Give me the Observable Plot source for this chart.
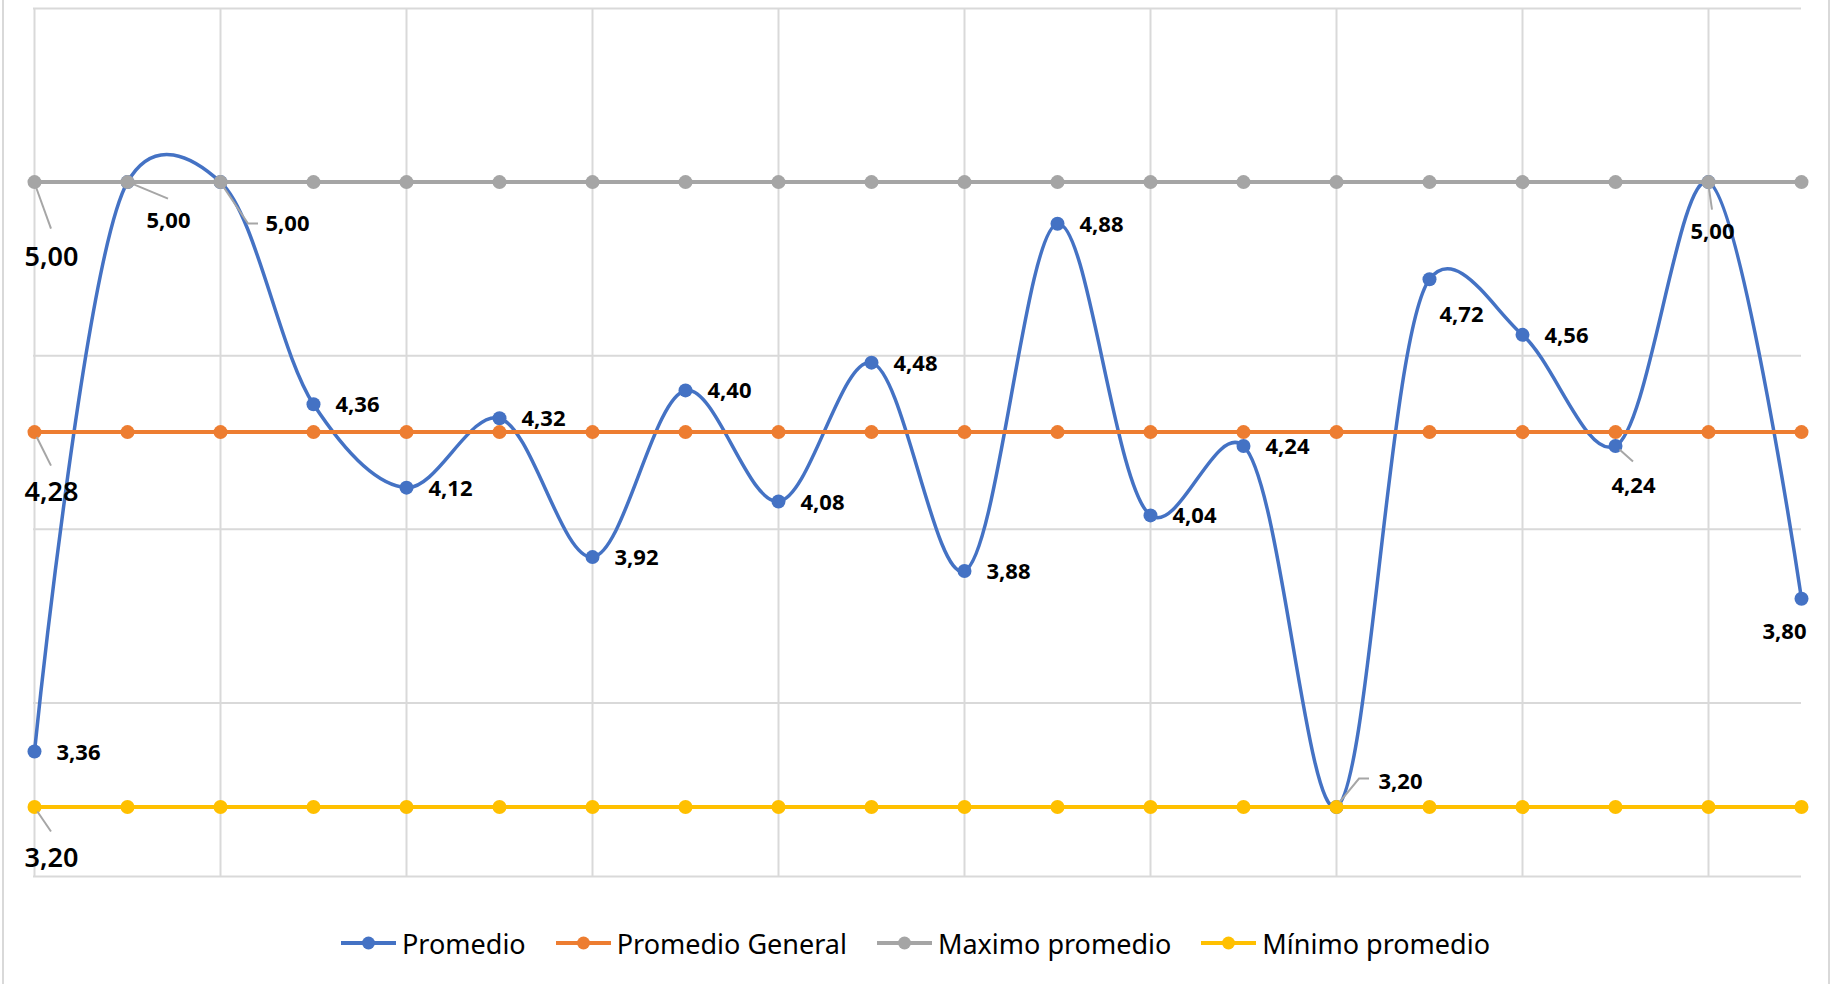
<!DOCTYPE html>
<html><head><meta charset="utf-8">
<script src="https://cdn.jsdelivr.net/npm/d3@7"></script>
<script src="https://cdn.jsdelivr.net/npm/@observablehq/plot@0.6"></script>
<style>
body{margin:0;background:#fff;width:1831px;height:984px;position:relative;overflow:hidden;font-family:"Noto Sans",sans-serif}
#frame{position:absolute;left:2px;top:-4px;width:1828px;height:994px;border:2px solid #d9d9d9;box-sizing:border-box}
#chart{position:absolute;left:0;top:0}
#legend{position:absolute;left:0;top:920px;width:1831px;height:46px;display:flex;justify-content:center;align-items:center;gap:30px;font-size:27px;color:#000}
.item{display:flex;align-items:center;gap:6px}
</style></head><body>
<div id="frame"></div><div id="chart"></div><div id="legend"></div>
<script>
// ---- data ----
const categories = [1,2,3,4,5,6,7,8,9,10,11,12,13,14,15,16,17,18,19,20];
const promedio = [3.36,5.00,5.00,4.36,4.12,4.32,3.92,4.40,4.08,4.48,3.88,4.88,4.04,4.24,3.20,4.72,4.56,4.24,5.00,3.80];
const promedioGeneral = [4.28,4.28,4.28,4.28,4.28,4.28,4.28,4.28,4.28,4.28,4.28,4.28,4.28,4.28,4.28,4.28,4.28,4.28,4.28,4.28];
const maximoPromedio = [5.00,5.00,5.00,5.00,5.00,5.00,5.00,5.00,5.00,5.00,5.00,5.00,5.00,5.00,5.00,5.00,5.00,5.00,5.00,5.00];
const minimoPromedio = [3.20,3.20,3.20,3.20,3.20,3.20,3.20,3.20,3.20,3.20,3.20,3.20,3.20,3.20,3.20,3.20,3.20,3.20,3.20,3.20];
const seriesNames = ["Promedio","Promedio General","Maximo promedio","Mínimo promedio"];
const yGrid = [3.0,3.5,4.0,4.5,5.0,5.5];
const xGrid = [1,3,5,7,9,11,13,15,17,19];
// label placement keys for the Promedio series
const labelPlacement = ["r","b1","b2","r","r","r","r","r","r","r","r","r","r","r","t14","b15","r","b17","b18","b19"];

// ---- styles / layout ----
const colors = ["#4472C4","#ED7D31","#A5A5A5","#FFC000"];
const placements = {
  r:   {dx:22, dy:1, anchor:"start"},
  b1:  {dx:41, dy:39, anchor:"middle", leader:[[0,0],[41,17]]},
  b2:  {dx:45, dy:42, anchor:"start", leader:[[0,0],[28,42],[38,42]]},
  t14: {dx:42, dy:-25, anchor:"start", leader:[[0,0],[23,-28],[33,-28]]},
  b15: {dx:32, dy:36, anchor:"middle"},
  b17: {dx:18, dy:40, anchor:"middle", leader:[[0,0],[18,16]]},
  b18: {dx:4, dy:50, anchor:"middle", leader:[[0,0],[4,28]]},
  b19: {dx:-17, dy:33, anchor:"middle"},
  big0: {dx:17, dy:60, anchor:"middle", leader:[[0,0],[17,34]]},   // 4,28
  big1: {dx:17, dy:75, anchor:"middle", leader:[[0,0],[17,47]]},   // 5,00
  big2: {dx:17, dy:51, anchor:"middle", leader:[[0,0],[17,25]]}    // 3,20
};
const fmt = v => d3.format(".2f")(v).replace(".", ",");
const FONT = "Noto Sans";

const rows = s => categories.map((c,i) => ({x:c, y:s[i]}));
const seriesData = [promedio, promedioGeneral, maximoPromedio, minimoPromedio].map(rows);

const marks = [
  Plot.ruleY(yGrid, {stroke:"#d9d9d9", strokeWidth:2}),
  Plot.ruleX(xGrid, {stroke:"#d9d9d9", strokeWidth:2})
];
seriesData.forEach((d, k) => {
  marks.push(Plot.line(d, {x:"x", y:"y", stroke:colors[k], strokeWidth: k===0 ? 3.5 : 4,
    curve: k===0 ? d3.curveCatmullRom.alpha(0.25) : "linear"}));
  marks.push(Plot.dot(d, {x:"x", y:"y", fill:colors[k], r:7, stroke:"none"}));
});
// Promedio labels
const leaders = [];
promedio.forEach((v,i) => {
  const p = placements[labelPlacement[i]];
  marks.push(Plot.text([{x:categories[i], y:v}], {x:"x", y:"y", text:d=>fmt(d.y), dx:p.dx, dy:p.dy,
    textAnchor:p.anchor, fontSize:22, fontWeight:"bold", fill:"#000", fontFamily:FONT}));
  if (p.leader) leaders.push({x:categories[i], y:v, pts:p.leader});
});
// first-point labels of constant series
[[promedioGeneral,"big0"],[maximoPromedio,"big1"],[minimoPromedio,"big2"]].forEach(([s,key]) => {
  const p = placements[key];
  marks.push(Plot.text([{x:categories[0], y:s[0]}], {x:"x", y:"y", text:d=>fmt(d.y), dx:p.dx, dy:p.dy,
    textAnchor:p.anchor, fontSize:27, fontWeight:600, fill:"#000", fontFamily:FONT}));
  leaders.push({x:categories[0], y:s[0], pts:p.leader});
});

const svg = Plot.plot({
  width:1831, height:900,
  marginLeft:33, marginRight:30, marginTop:8, marginBottom:24,
  x:{type:"point", domain:categories, padding:0, axis:null},
  y:{domain:[3.0,5.5], axis:null},
  style:{background:"transparent", fontFamily:FONT},
  marks
});
// leader lines through the plot's scales
const sx = svg.scale("x"), sy = svg.scale("y");
const g = d3.select(svg).append("g").attr("fill","none").attr("stroke","#a6a6a6").attr("stroke-width",2);
leaders.forEach(l => {
  const px = sx.apply(l.x), py = sy.apply(l.y);
  const [a,b] = [l.pts[0], l.pts[1]];
  const len = Math.hypot(b[0]-a[0], b[1]-a[1]);
  const st = [a[0] + (b[0]-a[0])/len*6, a[1] + (b[1]-a[1])/len*6];
  const pts = [st, ...l.pts.slice(1)].map(([dx,dy]) => [px+dx, py+dy]);
  g.append("path").attr("d", d3.line()(pts));
});
document.getElementById("chart").appendChild(svg);

// legend
const legend = d3.select("#legend");
seriesNames.forEach((name,k) => {
  const it = legend.append("div").attr("class","item");
  const s = it.append("svg").attr("width",55).attr("height",16);
  s.append("line").attr("x1",0).attr("x2",55).attr("y1",8).attr("y2",8).attr("stroke",colors[k]).attr("stroke-width",4);
  s.append("circle").attr("cx",27.5).attr("cy",8).attr("r",6.5).attr("fill",colors[k]);
  it.append("span").text(name);
});
</script>
</body></html>
